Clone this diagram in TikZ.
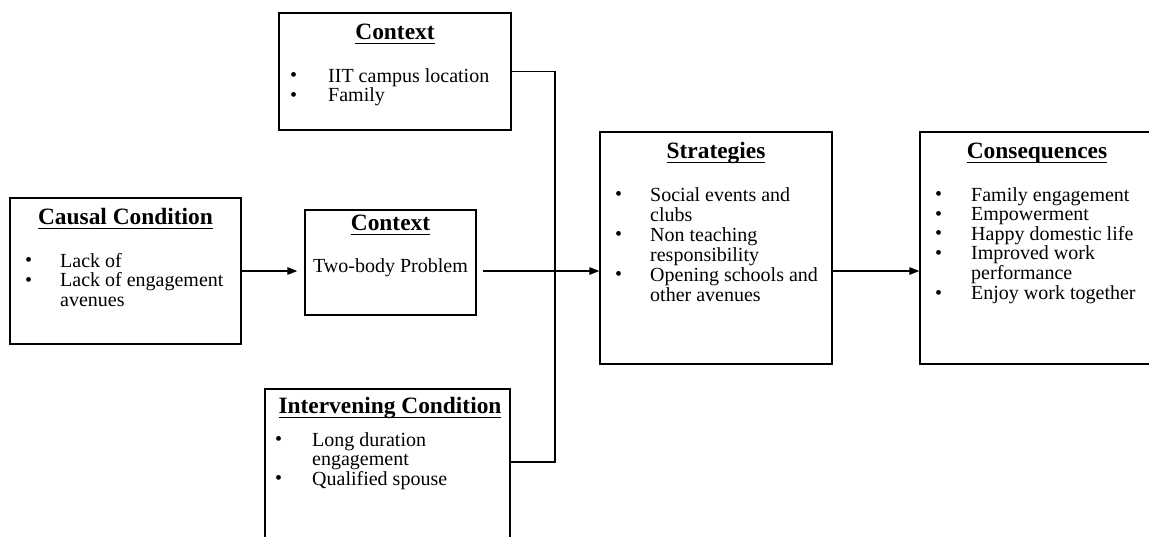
\documentclass[tikz,border=0pt]{standalone}
\usepackage{fontspec}
\setmainfont{Liberation Serif}
\usetikzlibrary{arrows.meta,positioning,calc}
\newcommand{\boxhead}[1]{\setbox0\hbox{#1}\rlap{\rule[-5.4pt]{\wd0}{1.4pt}}\box0}
\newcommand{\dotmark}{\raisebox{0.3pt}{\fontsize{20}{20}\selectfont\textbullet}}

\begin{document}
\begin{tikzpicture}[x=1pt,y=-1pt,
  frame/.style={draw,line width=1.4pt,inner sep=0pt},
  head/.style={font=\fontsize{23.4}{26}\selectfont\bfseries,inner sep=0pt,anchor=base},
  items/.style={font=\fontsize{20}{19.3}\selectfont,inner sep=0pt,anchor=base west},
  flow/.style={line width=1.2pt,-{Triangle[length=10pt,width=7.5pt]}},
  link/.style={line width=1.2pt}]
  \clip (0,0) rectangle (1149,536);
  % boxes
  \node[frame,minimum width=231pt,minimum height=146pt] (causal) at (125.5,271) {};
  \node[frame,minimum width=232pt,minimum height=117pt] (ctxtop) at (395,71.5) {};
  \node[frame,minimum width=171pt,minimum height=105pt] (ctxmid) at (390.5,262.5) {};
  \node[frame,minimum width=245pt,minimum height=171pt] (interv) at (387.5,474.5) {};
  \node[frame,minimum width=232pt,minimum height=232pt] (strat) at (716,248) {};
  \node[frame,minimum width=232pt,minimum height=232pt] (conseq) at (1036,248) {};
  % headings
  \node[head] (causalhead) at (125.5,224) {\boxhead{Causal Condition}};
  \node[head] (ctxtophead) at (395,39) {\boxhead{Context}};
  \node[head] (ctxmidhead) at (390.5,230) {\boxhead{Context}};
  \node[head] (intervhead) at (390,413) {\boxhead{Intervening Condition}};
  \node[head] (strathead) at (716,158) {\boxhead{Strategies}};
  \node[head] (conseqhead) at (1037,158) {\boxhead{Consequences}};
  % box contents
  \node[items] (causalitems) at (25,267) {\begin{tabular}[t]{@{}p{35pt}@{}l@{}}
    \dotmark & Lack of\\
    \dotmark & Lack of engagement\\
             & avenues
  \end{tabular}};
  \node[items] (ctxtopitems) at (290,82) {\begin{tabular}[t]{@{}p{38pt}@{}l@{}}
    \dotmark & IIT campus location\\
    \dotmark & Family
  \end{tabular}};
  \node[items,anchor=base] (twobody) at (390.5,272) {Two-body Problem};
  \node[items] (intervitems) at (275,446) {\begin{tabular}[t]{@{}p{37pt}@{}l@{}}
    \dotmark & Long duration\\
             & engagement\\
    \dotmark & Qualified spouse
  \end{tabular}};
  \node[items,font=\fontsize{20}{20}\selectfont] (stratitems) at (615,201) {\begin{tabular}[t]{@{}p{35pt}@{}l@{}}
    \dotmark & Social events and\\
             & clubs\\
    \dotmark & Non teaching\\
             & responsibility\\
    \dotmark & Opening schools and\\
             & other avenues
  \end{tabular}};
  \node[items] (conseqitems) at (935,201) {\begin{tabular}[t]{@{}p{36pt}@{}l@{}}
    \dotmark & Family engagement\\
    \dotmark & Empowerment\\
    \dotmark & Happy domestic life\\
    \dotmark & Improved work\\
             & performance\\
    \dotmark & Enjoy work together
  \end{tabular}};
  % connectors
  \coordinate (axis) at (0,271);
  \coordinate (bend) at (555,462);
  \draw[flow,shorten >=7pt] (causal.east) -- (causal.east -| ctxmid.west);
  \draw[flow,shorten <=6pt] (ctxmid.east |- axis) -- (strat.west |- axis);
  \draw[flow] (strat.east |- axis) -- (conseq.west |- axis);
  \draw[link] (ctxtop.east) -| (bend) -- (bend -| interv.east);
\end{tikzpicture}
\end{document}
